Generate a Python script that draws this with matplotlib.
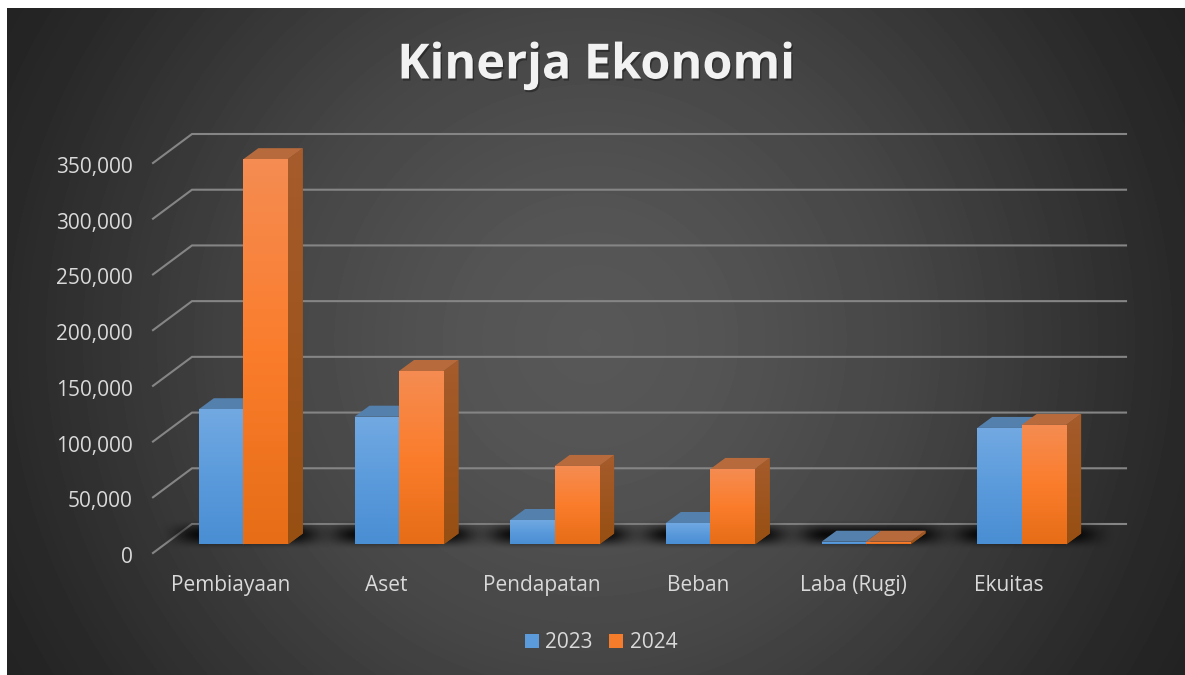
#!/usr/bin/env python3
"""Kinerja Ekonomi: pseudo-3D clustered columns on a dark radial background."""

import numpy as np
import matplotlib
matplotlib.use("Agg")
import matplotlib.pyplot as plt
import matplotlib.patheffects as pe
from matplotlib.patches import Polygon, Patch
from matplotlib.colors import LinearSegmentedColormap
from matplotlib.ticker import StrMethodFormatter
from matplotlib.transforms import ScaledTranslation

categories = ["Pembiayaan", "Aset", "Pendapatan", "Beban", "Laba (Rugi)", "Ekuitas"]
values_2023 = [121400, 114700, 22000, 19300, 2500, 104600]
values_2024 = [345800, 155700, 70500, 67800, 2500, 107300]
y_ticks = [0, 50000, 100000, 150000, 200000, 250000, 300000, 350000]

W, H = 1185, 675
PX_X = 155.67       # pixels per category
PX_Y = 55.7 / 50000  # pixels per unit
BAR_W = 44.5 / PX_X
FLOOR_DX = 12.5 / PX_X
FLOOR_Y = 8.5 / PX_Y
BAR_DX = 15 / PX_X
BAR_DY = 11 / PX_Y
GRID_DX = 39 / PX_X
GRID_DY = 29 / PX_Y
XMAX = 5.5

BLUE = dict(front=["#72a9e2", "#5b9bdc", "#4a8ed3"], top="#5480ad", side=["#4f7aa5", "#3a6a9c"], legend="#5b9bdc")
ORANGE = dict(front=["#f58c52", "#fb7d2c", "#e76d17"], top="#b76a3c", side=["#a65c2c", "#984f12"], legend="#f57c2a")

fig = plt.figure(figsize=(W / 100, H / 100), dpi=100, facecolor="white")

# background panel, circular gradient
bg = fig.add_axes([7 / W, 0, (W - 7) / W, (H - 8) / H])
yy, xx = np.mgrid[8:H, 7:W]
r = np.hypot(xx - 590, yy - 340)
shade = np.interp(r, [0, 130, 320, 580, 680], [88, 84, 70, 42, 34]) / 255
bg.imshow(shade, cmap="gray", vmin=0, vmax=1, aspect="auto", interpolation="bilinear")
bg.axis("off")

# axes run up to the back wall so the depth faces are not clipped
ax = fig.add_axes([153 / W, (H - 553) / H, (PX_X * 6 + 39) / W, 419 / H])
ax.patch.set_alpha(0)


def fill_gradient(patch, colors, x0, x1, y0, y1):
    """Vertical gradient clipped to patch; colors run top to bottom."""
    cmap = LinearSegmentedColormap.from_list("g", colors)
    im = ax.imshow(np.linspace(0, 1, 64).reshape(-1, 1), cmap=cmap, aspect="auto",
                   extent=(x0, x1, y0, y1), zorder=patch.get_zorder())
    im.set_clip_path(patch)


def smooth(t):
    t = np.clip(t, 0, 1)
    return t * t * (3 - 2 * t)


# gridlines: back wall plus the slanted floor-to-front stub
for t in y_ticks:
    ax.plot([-0.5, -0.5 + GRID_DX, XMAX + GRID_DX], [t, t + GRID_DY, t + GRID_DY],
            color="#858585", lw=1.5, clip_on=False, zorder=1, solid_joinstyle="miter")

# soft shadows on the floor
u = np.linspace(0, 1, 200)
v = np.linspace(0, 1, 40)
alpha = np.outer(smooth(np.minimum(v, 1 - v) / 0.5), smooth(np.minimum(u, 1 - u) / 0.25)) * 0.85
rgba = np.zeros((40, 200, 4))
rgba[..., 3] = alpha
for i in range(len(categories)):
    sx0 = i - BAR_W - 0.18
    sx1 = i + FLOOR_DX + BAR_W + BAR_DX + 0.22
    ax.imshow(rgba, extent=(sx0, sx1, FLOOR_Y - 6 / PX_Y, FLOOR_Y + 24 / PX_Y), aspect="auto",
              zorder=2, interpolation="bilinear")

# columns
for vals, shift, style, label in [(values_2023, -BAR_W, BLUE, "2023"), (values_2024, 0, ORANGE, "2024")]:
    xs = np.arange(len(vals)) + FLOOR_DX + shift
    bars = ax.bar(xs, vals, width=BAR_W, bottom=FLOOR_Y, align="edge", color="none",
                  linewidth=0, zorder=4, label=label)
    for x, v_, bar in zip(xs, vals, bars):
        top = FLOOR_Y + v_
        side = Polygon([(x + BAR_W, FLOOR_Y), (x + BAR_W + BAR_DX, FLOOR_Y + BAR_DY),
                        (x + BAR_W + BAR_DX, top + BAR_DY), (x + BAR_W, top)],
                       closed=True, facecolor=style["side"][1], lw=0, zorder=3)
        ax.add_patch(side)
        fill_gradient(side, style["side"], x + BAR_W, x + BAR_W + BAR_DX, FLOOR_Y, top + BAR_DY)
        ax.add_patch(Polygon([(x, top), (x + BAR_W, top), (x + BAR_W + BAR_DX, top + BAR_DY),
                              (x + BAR_DX, top + BAR_DY)],
                             closed=True, facecolor=style["top"], lw=0, zorder=3))
        fill_gradient(bar, style["front"], x, x + BAR_W, FLOOR_Y, top)

ax.set_xlim(-0.5, XMAX + GRID_DX)
ax.set_ylim(0, 350000 + GRID_DY)
ax.set_xticks(range(len(categories)), categories)
ax.set_yticks(y_ticks)
ax.yaxis.set_major_formatter(StrMethodFormatter("{x:,.0f}"))
for side_name in ax.spines:
    ax.spines[side_name].set_visible(False)
ax.tick_params(axis="both", length=0, colors="#d9d9d9", labelsize=15)
ax.tick_params(axis="x", pad=15.5)
ax.tick_params(axis="y", pad=14.5)
for lab in ax.get_xticklabels() + ax.get_yticklabels():
    lab.set_fontfamily("Open Sans")
for lab in ax.get_yticklabels():
    lab.set_transform(lab.get_transform() + ScaledTranslation(0, -2 / 100, fig.dpi_scale_trans))

handles = [Patch(facecolor=BLUE["legend"], label="2023"), Patch(facecolor=ORANGE["legend"], label="2024")]
leg = ax.legend(handles=handles, ncol=2, loc="center", frameon=False,
                bbox_to_anchor=(601 / W, (H - 643) / H), bbox_transform=fig.transFigure,
                prop={"family": "Open Sans", "size": 15}, labelcolor="#d9d9d9",
                handlelength=0.68, handleheight=0.68, handletextpad=0.3, columnspacing=0.8)

fig.text(596 / W, (H - 66) / H, "Kinerja Ekonomi", ha="center", va="center", color="#f2f2f2",
         fontsize=35, fontweight="bold", fontfamily="Open Sans",
         path_effects=[pe.SimplePatchShadow(offset=(1, -1.5), alpha=0.35, shadow_rgbFace="black"), pe.Normal()])

fig.savefig("out.png", dpi=100, facecolor=fig.get_facecolor())
